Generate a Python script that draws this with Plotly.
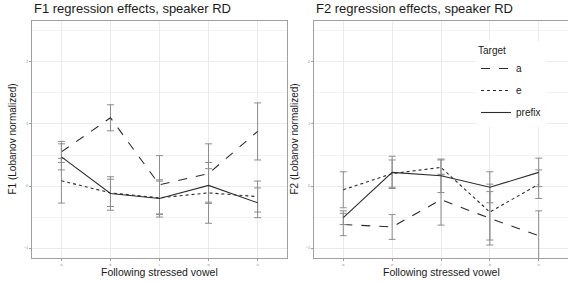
import plotly.graph_objects as go
from plotly.subplots import make_subplots

vowels = ["a", "e", "i", "o", "u"]
targets = ["a", "e", "prefix"]

# F1 panel
f1_a = [0.55, 1.10, 0.02, 0.20, 0.88]
f1_a_err = [0.17, 0.21, 0.47, 0.48, 0.46]
f1_e = [0.085, -0.11, -0.19, -0.11, -0.17]
f1_e_err = [0.36, 0.22, 0.27, 0.49, 0.25]
f1_p = [0.47, -0.12, -0.20, 0.01, -0.27]
f1_p_err = [0.21, 0.27, 0.30, 0.27, 0.24]

# F2 panel
f2_a = [-0.62, -0.66, -0.22, -0.52, -0.80]
f2_a_err = [0.18, 0.20, 0.41, 0.43, 0.40]
f2_e = [-0.06, 0.20, 0.30, -0.42, 0.03]
f2_e_err = [0.29, 0.22, 0.12, 0.45, 0.23]
f2_p = [-0.51, 0.22, 0.165, -0.02, 0.22]
f2_p_err = [0.11, 0.26, 0.27, 0.25, 0.23]

dashes = {"a": "dash", "e": "dot", "prefix": "solid"}
LINE = "#2b2b2b"
ERR = "#8c8c8c"
GRID = "#ebebeb"
BORDER = "#a0a0a0"

fig = make_subplots(rows=1, cols=2)

panels = [
    (1, {"a": (f1_a, f1_a_err), "e": (f1_e, f1_e_err), "prefix": (f1_p, f1_p_err)}),
    (2, {"a": (f2_a, f2_a_err), "e": (f2_e, f2_e_err), "prefix": (f2_p, f2_p_err)}),
]
for col, data in panels:
    for t in targets:
        y, err = data[t]
        fig.add_trace(go.Scatter(
            x=vowels, y=y, mode="lines", name=t,
            line=dict(color=LINE, width=1.1, dash=dashes[t]),
            error_y=dict(type="data", array=err, visible=True,
                         color=ERR, thickness=1, width=3.5),
            showlegend=(col == 2), legendgroup=t,
        ), row=1, col=col)

W, H = 568, 282
L, R, T, B = 32, 0, 21, 24
pw = W - L - R
ph = H - T - B
fig.update_layout(
    width=W, height=H,
    margin=dict(l=L, r=R, t=T, b=B),
    paper_bgcolor="white", plot_bgcolor="white",
    font=dict(family="Liberation Sans, Arial, sans-serif", color="#1a1a1a"),
    legend=dict(
        title=dict(text="Target", font=dict(size=10)),
        x=(476 - L) / pw, y=(H - B - 41) / ph, xanchor="left", yanchor="top",
        bgcolor="white", font=dict(size=10), tracegroupgap=3,
        itemwidth=30,
    ),
)
fig.update_layout(
    xaxis=dict(domain=[0, (287 - L) / pw]),
    xaxis2=dict(domain=[(314 - L) / pw, 1]),
)
axis_common = dict(
    showline=True, mirror=True, linecolor=BORDER, linewidth=1,
    showgrid=True, gridcolor=GRID, gridwidth=1, zeroline=False,
    ticks="outside", ticklen=2, tickcolor=BORDER,
    tickfont=dict(size=4, color="#8a8a8a"),
)
fig.update_xaxes(**axis_common, range=[-0.6, 4.6])
fig.update_yaxes(**axis_common, range=[-1.16, 2.66], dtick=1,
                 minor=dict(dtick=0.5, showgrid=True, gridcolor="#f3f3f3", ticks=""))

def px(xpix):
    return (xpix - L) / pw

def py(ypix):
    return (H - B - ypix) / ph

ann = []
for x0, x1, title, ytitle in [(32, 287, "F1 regression effects, speaker RD", "F1 (Lobanov normalized)"),
                              (314, 568, "F2 regression effects, speaker RD", "F2 (Lobanov normalized)")]:
    ann.append(dict(text=title, x=px(x0), y=py(9), xref="paper", yref="paper",
                    xanchor="left", yanchor="middle", showarrow=False,
                    font=dict(size=13, color="#1a1a1a")))
    ann.append(dict(text="Following stressed vowel", x=px((x0 + x1) / 2), y=py(272),
                    xref="paper", yref="paper", xanchor="center", yanchor="middle",
                    showarrow=False, font=dict(size=10.5, color="#1a1a1a")))
    ann.append(dict(text=ytitle, x=px(x0 - 20), y=0.5, xref="paper", yref="paper",
                    xanchor="center", yanchor="middle", textangle=-90,
                    showarrow=False, font=dict(size=10, color="#1a1a1a")))
fig.update_layout(annotations=ann)

fig.write_html("out.html", config={"displayModeBar": False})

# remove default browser body margin so the figure sits at the page origin
with open("out.html", "r", encoding="utf-8") as f:
    html = f.read()
html = html.replace("<body>", '<body style="margin:0;padding:0;overflow:hidden">', 1)
with open("out.html", "w", encoding="utf-8") as f:
    f.write(html)
